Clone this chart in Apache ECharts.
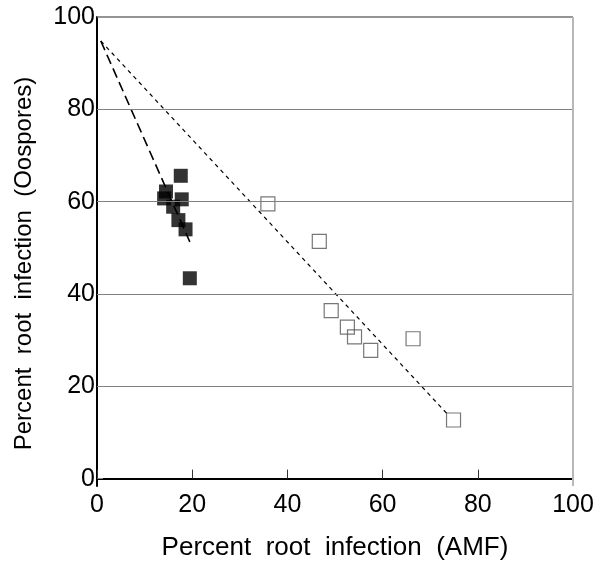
<!DOCTYPE html>
<html>
<head>
<meta charset="utf-8">
<script src="https://cdn.jsdelivr.net/npm/echarts@6/dist/echarts.min.js"></script>
<style>
html,body{margin:0;padding:0;background:#fff;}
#chart{width:602px;height:574px;}
</style>
</head>
<body>
<div id="chart"></div>
<script>
// Filled squares (Oospores vs AMF, group 1)
const filledX = [17.6, 14.5, 14.1, 17.8, 16.0, 17.1, 18.6, 19.5];
const filledY = [65.6, 62.2, 60.7, 60.5, 58.9, 56.0, 54.0, 43.4];
// Open squares (group 2)
const openX = [35.9, 46.7, 49.2, 52.6, 54.1, 57.5, 66.4, 74.9];
const openY = [59.5, 51.4, 36.4, 32.8, 30.7, 27.8, 30.3, 12.7];
// Regression line endpoints
const longDashX = [0.8, 19.5];
const longDashY = [94.8, 51.3];
const shortDashX = [0.8, 73.5];
const shortDashY = [94.8, 14.1];
// Axis ticks / grid values
const xTicks = [0, 20, 40, 60, 80, 100];
const yTicks = [0, 20, 40, 60, 80, 100];
const gridYValues = [20, 40, 60, 80];

const zip = (a, b) => a.map((v, i) => [v, b[i]]);
const FONT = 'Liberation Sans, Arial, Helvetica, sans-serif';

const chart = echarts.init(document.getElementById('chart'), null, {renderer: 'canvas'});
chart.setOption({
  animation: false,
  backgroundColor: '#ffffff',
  grid: {left: 97, right: 29, top: 17, bottom: 88, containLabel: false},
  xAxis: {
    type: 'value', min: 0, max: 100, interval: 20,
    name: 'Percent  root  infection  (AMF)',
    nameLocation: 'middle', nameGap: 49,
    nameTextStyle: {fontSize: 26, color: '#000', fontFamily: FONT},
    axisLine: {show: true, lineStyle: {color: '#000', width: 2}},
    axisTick: {show: true, inside: true, length: 9, lineStyle: {color: '#333', width: 1}},
    axisLabel: {fontSize: 25, color: '#000', fontFamily: FONT, margin: 7, customValues: xTicks},
    splitLine: {show: false}
  },
  yAxis: {
    type: 'value', min: -1.6, max: 100,
    name: 'Percent  root  infection  (Oospores)',
    nameLocation: 'middle', nameGap: 61,
    nameTextStyle: {fontSize: 24, color: '#000', fontFamily: FONT, padding: [0, 24, 0, 0]},
    axisLine: {show: true, lineStyle: {color: '#000', width: 2}},
    axisTick: {show: true, inside: true, length: 6, customValues: [0], lineStyle: {color: '#888', width: 1}},
    axisLabel: {fontSize: 25, color: '#000', fontFamily: FONT, margin: 2, customValues: yTicks},
    splitLine: {show: false}
  },
  series: [
    {
      type: 'line', data: [], silent: true,
      markLine: {
        silent: true, symbol: 'none', label: {show: false},
        lineStyle: {color: '#808080', width: 1, type: 'solid'},
        data: gridYValues.map(v => ({yAxis: v})).concat([
          {yAxis: 100, lineStyle: {color: '#707070', width: 1.5, type: 'solid'}},
          {xAxis: 100, lineStyle: {color: '#b8b8b8', width: 2, type: 'solid'}}
        ])
      }
    },
    {
      type: 'line', data: zip(longDashX, longDashY), symbol: 'none', silent: true,
      lineStyle: {color: '#000', width: 1.6, type: [10, 5]}
    },
    {
      type: 'line', data: zip(shortDashX, shortDashY), symbol: 'none', silent: true,
      lineStyle: {color: '#000', width: 1.2, type: [4, 4]}
    },
    {
      type: 'scatter', data: zip(openX, openY), symbol: 'rect', symbolSize: 14,
      itemStyle: {color: 'rgba(255,255,255,0)', borderColor: '#555', borderWidth: 1.2}
    },
    {
      type: 'scatter', data: zip(filledX, filledY), symbol: 'rect', symbolSize: 14,
      itemStyle: {color: '#000'}
    }
  ]
});
</script>
</body>
</html>
